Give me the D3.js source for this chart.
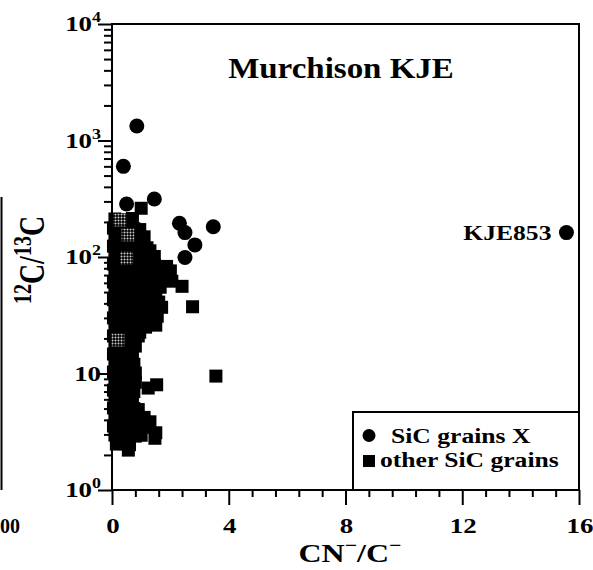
<!DOCTYPE html>
<html><head><meta charset="utf-8">
<script src="https://cdn.jsdelivr.net/npm/d3@7"></script>
<style>
html,body{margin:0;padding:0;background:#fff;}
svg{display:block;}
text{font-family:"Liberation Serif","Times New Roman",serif;font-weight:bold;fill:#000;}
</style></head>
<body>
<svg id="chart" width="593" height="570"></svg>
<script>
// ---- data ----
const titleText = "Murchison KJE";
const xTickValues = [0, 4, 8, 12, 16];
const yTickExponents = [0, 1, 2, 3, 4];
const legendLabels = ["SiC grains X", "other SiC grains"];
const annotation = {label: "KJE853"};

// SiC grains X (circles): [CN-/C-, 12C/13C]
const grainsX = [
  [0.85,1330],[0.39,600],[0.5,285],[1.45,315],[2.31,195],[2.5,162],
  [2.84,127],[2.5,99],[3.47,182],[15.57,162]
];
// other SiC grains (squares)
const otherGrains = [
  [0.1,212],[0.35,208],[0.7,214],
  [0.05,177],[0.4,180],[0.75,175],[0.95,172],
  [0.1,148],[0.45,150],[0.8,146],[1.1,149],
  [0.05,124],[0.35,126],[0.7,122],[1.05,125],[1.2,120],
  [0.1,104],[0.45,106],[0.8,103],[1.15,105],[1.45,101],
  [0.05,87],[0.4,88],[0.75,86],[1.1,89],[1.45,85],[1.87,83],
  [0.1,73],[0.45,74],[0.8,72],[1.15,75],[1.5,71],[2.0,76],
  [0.05,61],[0.4,62],[0.75,60],[1.1,63],[1.45,59],[1.7,64],[2.05,62],
  [0.1,51],[0.45,52],[0.8,50],[1.15,53],[1.5,49],[2.4,56],
  [0.05,43],[0.4,44],[0.75,42],[1.1,45],[1.6,41],
  [0.1,36],[0.45,37],[0.8,35],[1.2,36],[1.7,37],
  [0.05,30],[0.4,31],[0.75,29],[1.1,30],[1.55,31],
  [0.1,25],[0.45,26],[0.8,24.5],[1.15,25],[1.5,26],
  [0.05,21],[0.4,21.5],[0.75,20.5],[0.9,21],
  [0.1,17.6],[0.45,18],[0.8,17.2],
  [0.05,14.7],[0.4,15],[0.7,14.4],
  [0.1,12.3],[0.45,12.6],[0.75,12],
  [0.05,10.3],[0.4,10.5],[0.8,10.1],
  [0.1,8.6],[0.45,8.8],[0.8,8.4],[1.24,7.5],[1.53,8.0],
  [0.05,7.2],[0.4,7.3],[0.75,7.0],
  [0.1,6.0],[0.45,6.1],[0.7,5.9],
  [0.05,5.06],[0.4,5.1],[0.75,5.0],[0.9,4.9],
  [0.1,4.23],[0.45,4.3],[0.8,4.15],[1.1,4.2],
  [0.05,3.54],[0.4,3.6],[0.75,3.5],[1.1,3.45],[1.5,3.1],
  [0.1,2.96],[0.45,3.0],[0.8,2.9],[1.0,2.95],[1.47,2.78],
  [0.15,2.48],[0.4,2.5],[0.6,2.45],
  [0.56,2.2],
  [1.0,262],
  [2.76,37.4],[3.56,9.5],
  [0.2,194],[0.55,196],
  [0.25,162],[0.6,160],[0.9,164],
  [0.2,136],[0.6,138],[0.95,134],
  [0.25,114],[0.55,116],[0.9,112],[1.3,113],
  [0.2,95],[0.6,96],[0.95,94],[1.3,97],
  [0.25,80],[0.6,81],[0.95,79],[1.3,80],[1.65,78],
  [0.2,67],[0.6,68],[0.95,66],[1.3,67],[1.6,69],
  [0.25,56],[0.6,57],[0.95,55],[1.3,56],[1.65,55],
  [0.2,47],[0.6,48],[0.95,46],[1.35,47],
  [0.25,39],[0.6,40],[0.95,38],[1.4,39],
  [0.2,33],[0.6,34],[0.95,32],[1.4,33],
  [0.25,27.4],[0.6,28],[0.95,27],[1.3,27.5],
  [0.2,23],[0.6,23.5],[0.95,22.6],
  [0.25,19.2],[0.6,19.5],
  [0.2,16.1],[0.6,16.4],
  [0.25,13.5],[0.6,13.8],
  [0.2,11.3],[0.6,11.5],
  [0.25,9.4],[0.6,9.6],
  [0.2,7.9],[0.6,8.1],
  [0.25,6.6],[0.6,6.7],
  [0.2,5.5],[0.6,5.6],
  [0.25,4.6],[0.6,4.7],
  [0.2,3.87],[0.6,3.9],[0.95,3.8],[1.3,3.85],
  [0.25,3.24],[0.6,3.3],[0.95,3.2],
  [0.25,2.71],[0.6,2.75]
];
// stippled grains inside the cluster
const stippledGrains = [[0.27,208],[0.55,155],[0.5,98],[0.2,19.4]];

// ---- layout ----
const svg = d3.select("#chart");
const SX = 1.28; // horizontal stretch of the original typesetting
const x = d3.scaleLinear().domain([0,16]).range([112,579]);
const y = d3.scaleLog().domain([1,1e4]).range([490,24]);

function stext(parent, px, py, anchor, size, sx){
  return parent.append("text")
    .attr("transform", `translate(${px},${py}) scale(${sx || SX},1)`)
    .attr("text-anchor", anchor)
    .attr("font-size", size);
}

// pattern for stippled markers
const defs = svg.append("defs");
const pat = defs.append("pattern").attr("id","stip").attr("patternUnits","userSpaceOnUse")
  .attr("width",3).attr("height",3);
pat.append("rect").attr("width",3).attr("height",3).attr("fill","#000");
pat.append("circle").attr("cx",1.5).attr("cy",1.5).attr("r",1).attr("fill","#cfcfcf");

// neighbour panel remnants at left edge
svg.append("line").attr("x1",1.5).attr("x2",1.5).attr("y1",197).attr("y2",490)
  .attr("stroke","#000").attr("stroke-width",2);
stext(svg, 0, 533, "start", 20, 1.0).text("00");

// frame
svg.append("rect").attr("x",x(0)).attr("y",y(1e4)).attr("width",x(16)-x(0)).attr("height",y(1)-y(1e4))
  .attr("fill","none").attr("stroke","#000").attr("stroke-width",2);

// x axis ticks
const xAxis = d3.axisBottom(x).tickValues(d3.range(0,16.01,0.8)).tickSize(7).tickFormat("");
const gx = svg.append("g").attr("transform",`translate(0,${y(1)})`).call(xAxis);
gx.select(".domain").remove();
gx.selectAll(".tick line").attr("stroke","#000").attr("stroke-width",2)
  .attr("y2", d => xTickValues.some(v => Math.abs(v-d)<1e-6) ? 15 : 7);
xTickValues.forEach(v => stext(svg, x(v)+1, 533, "middle", 21).text(v));

// y axis ticks
const yMinor = [];
for (let e=0;e<4;e++) for (let m=1;m<10;m++) yMinor.push(m*Math.pow(10,e));
yMinor.push(1e4);
const yAxis = d3.axisLeft(y).tickValues(yMinor).tickSize(8).tickFormat("");
const gy = svg.append("g").attr("transform",`translate(${x(0)},0)`).call(yAxis);
gy.select(".domain").remove();
gy.selectAll(".tick line").attr("stroke","#000").attr("stroke-width",2)
  .attr("x2", d => { const l = Math.log10(d); return Math.abs(l-Math.round(l))<1e-9 ? -14 : -8; });

yTickExponents.forEach(e => {
  const t = stext(svg, 101, y(Math.pow(10,e))+7, "end", 21);
  t.append("tspan").text("10");
  if (e !== 1) t.append("tspan").attr("dy",-9).attr("font-size",14).text(e);
});

// axis titles
const xl = stext(svg, 350, 562, "middle", 25);
xl.append("tspan").text("CN");
xl.append("tspan").attr("dy",-11).attr("font-size",17).text("−");
xl.append("tspan").attr("dy",11).text("/C");
xl.append("tspan").attr("dy",-11).attr("font-size",17).text("−");

const yl = svg.append("text").attr("transform","translate(44,260) rotate(-90) scale(1,1.28)")
  .attr("text-anchor","middle").attr("font-size",28);
yl.append("tspan").attr("dy",-10).attr("font-size",20).text("12");
yl.append("tspan").attr("dy",10).text("C/");
yl.append("tspan").attr("dy",-10).attr("font-size",20).text("13");
yl.append("tspan").attr("dy",10).text("C");

// title
stext(svg, 341, 78, "middle", 30, 1.1).text(titleText);

// markers
svg.append("g").selectAll("rect.o").data(otherGrains).join("rect")
  .attr("x", d => x(d[0])-6.5).attr("y", d => y(d[1])-6.5)
  .attr("width",13).attr("height",13).attr("fill","#000");
svg.append("g").selectAll("rect.s").data(stippledGrains).join("rect")
  .attr("x", d => x(d[0])-6.5).attr("y", d => y(d[1])-6.5)
  .attr("width",13).attr("height",13).attr("fill","url(#stip)");
svg.append("g").selectAll("circle").data(grainsX).join("circle")
  .attr("cx", d => x(d[0])).attr("cy", d => y(d[1])).attr("r",7.5).attr("fill","#000");

// annotation
const k = grainsX[grainsX.length-1];
stext(svg, x(k[0])-15, y(k[1])+7, "end", 20).text(annotation.label);

// legend
const lg = svg.append("g");
lg.append("rect").attr("x",353).attr("y",412).attr("width",x(16)-353).attr("height",y(1)-412)
  .attr("fill","#fff").attr("stroke","#000").attr("stroke-width",2);
lg.append("circle").attr("cx",369).attr("cy",435.5).attr("r",6.5).attr("fill","#000");
lg.append("rect").attr("x",363).attr("y",455).attr("width",12).attr("height",12).attr("fill","#000");
stext(lg, 391, 443, "start", 20).text(legendLabels[0]);
stext(lg, 380, 467, "start", 20).text(legendLabels[1]);
</script>
</body></html>
